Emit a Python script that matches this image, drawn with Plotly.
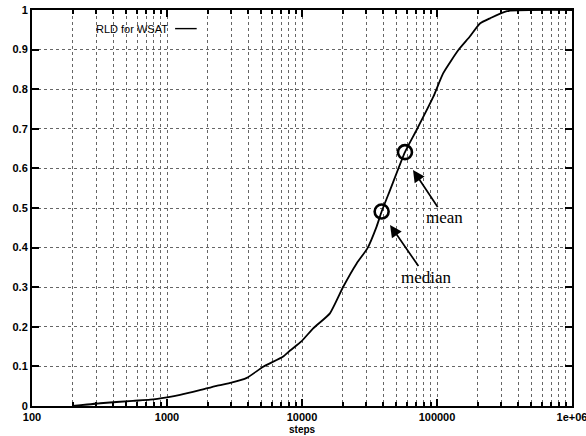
import math
import plotly.graph_objects as go

# Run-length distribution (cumulative probability of solving vs. steps)
steps = [200, 320, 560, 750, 1000, 1250, 1750, 2330, 3000, 3900, 5160, 7260, 8150,
         9950, 12100, 16100, 20200, 25400, 30500, 35700, 38900, 44900, 57900, 70600,
         94000, 111000, 144000, 175000, 208000, 247000, 330000, 1000000]
prob = [0.0, 0.007, 0.013, 0.016, 0.022, 0.028, 0.04, 0.051, 0.059, 0.071, 0.099, 0.125,
        0.14, 0.164, 0.196, 0.234, 0.301, 0.36, 0.398, 0.453, 0.491, 0.545, 0.641, 0.697,
        0.781, 0.84, 0.899, 0.933, 0.966, 0.979, 0.997, 1.0]

series_name = "RLD for WSAT"
x_title = "steps"
stat_names = ["median", "mean"]
stat_x = [38900, 57900]
stat_y = [0.491, 0.641]
arrow_x = [44900, 66400]
arrow_y = [0.457, 0.596]

x_tickvals = [100, 1000, 10000, 100000, 1000000]
x_ticktext = ["100", "1000", "10000", "100000", "1e+06"]
y_tickvals = [0, 0.1, 0.2, 0.3, 0.4, 0.5, 0.6, 0.7, 0.8, 0.9, 1.0]
y_ticktext = ["0", "0.1", "0.2", "0.3", "0.4", "0.5", "0.6", "0.7", "0.8", "0.9", "1"]
x_minor = [m * 10 ** e for e in range(2, 6) for m in range(2, 10)]

fig = go.Figure()
fig.add_trace(go.Scatter(x=steps, y=prob, mode="lines", name=series_name,
                         line=dict(color="black", width=1.8, shape="spline", smoothing=0.5),
                         showlegend=False))
fig.add_trace(go.Scatter(x=stat_x, y=stat_y, mode="markers", showlegend=False,
                         marker=dict(symbol="circle-open", size=14, color="black",
                                     line=dict(width=2.6, color="black"))))

offsets = {"median": (36, 52), "mean": (32, 48)}
for name, hx, hy in zip(stat_names, arrow_x, arrow_y):
    ax, ay = offsets[name]
    fig.add_annotation(x=math.log10(hx), y=hy, xref="x", yref="y", text=name, showarrow=True,
                       ax=ax, ay=ay, arrowhead=2, arrowsize=1.4, arrowwidth=1.7,
                       arrowcolor="black",
                       font=dict(family="Liberation Serif", size=17, color="black"))

# gnuplot-style key: text then line sample
fig.add_annotation(x=0.255, y=0.953, xref="paper", yref="paper", text=series_name,
                   showarrow=False, xanchor="right", yanchor="middle",
                   font=dict(family="Liberation Sans", size=11, color="black"))
fig.add_shape(type="line", xref="paper", yref="paper", x0=0.265, x1=0.305,
              y0=0.953, y1=0.953, line=dict(color="black", width=1.4))

# x-axis title
fig.add_annotation(x=0.5, y=-0.059, xref="paper", yref="paper", text=x_title,
                   showarrow=False, xanchor="center", yanchor="middle",
                   font=dict(family="Liberation Sans", size=10, color="black", weight="bold"))

grid = dict(gridcolor="#666666", griddash="dot", gridwidth=1)
fig.update_xaxes(type="log", range=[2, 6], tickvals=x_tickvals, ticktext=x_ticktext,
                 ticks="inside", ticklen=7, tickwidth=1.5, tickcolor="black",
                 showline=True, linecolor="black", linewidth=2, mirror="allticks",
                 showgrid=True, **grid, automargin=False, ticklabeloverflow="allow",
                 minor=dict(tickvals=x_minor, ticks="inside", ticklen=4,
                            tickcolor="black", showgrid=True, gridcolor="#666666",
                            griddash="dot", gridwidth=1),
                 tickfont=dict(family="Liberation Sans", size=11, color="black", weight="bold"),
                 zeroline=False)
fig.update_yaxes(range=[0, 1], tickvals=y_tickvals, ticktext=y_ticktext,
                 ticks="inside", ticklen=7, tickwidth=1.5, tickcolor="black",
                 showline=True, linecolor="black", linewidth=2, mirror="allticks",
                 showgrid=True, **grid, zeroline=False, automargin=False,
                 ticklabeloverflow="allow",
                 tickfont=dict(family="Liberation Sans", size=11, color="black", weight="bold"))

fig.update_layout(width=586, height=436, margin=dict(l=32, r=14, t=10, b=30),
                  paper_bgcolor="white", plot_bgcolor="white")
fig.write_html("out.html")
